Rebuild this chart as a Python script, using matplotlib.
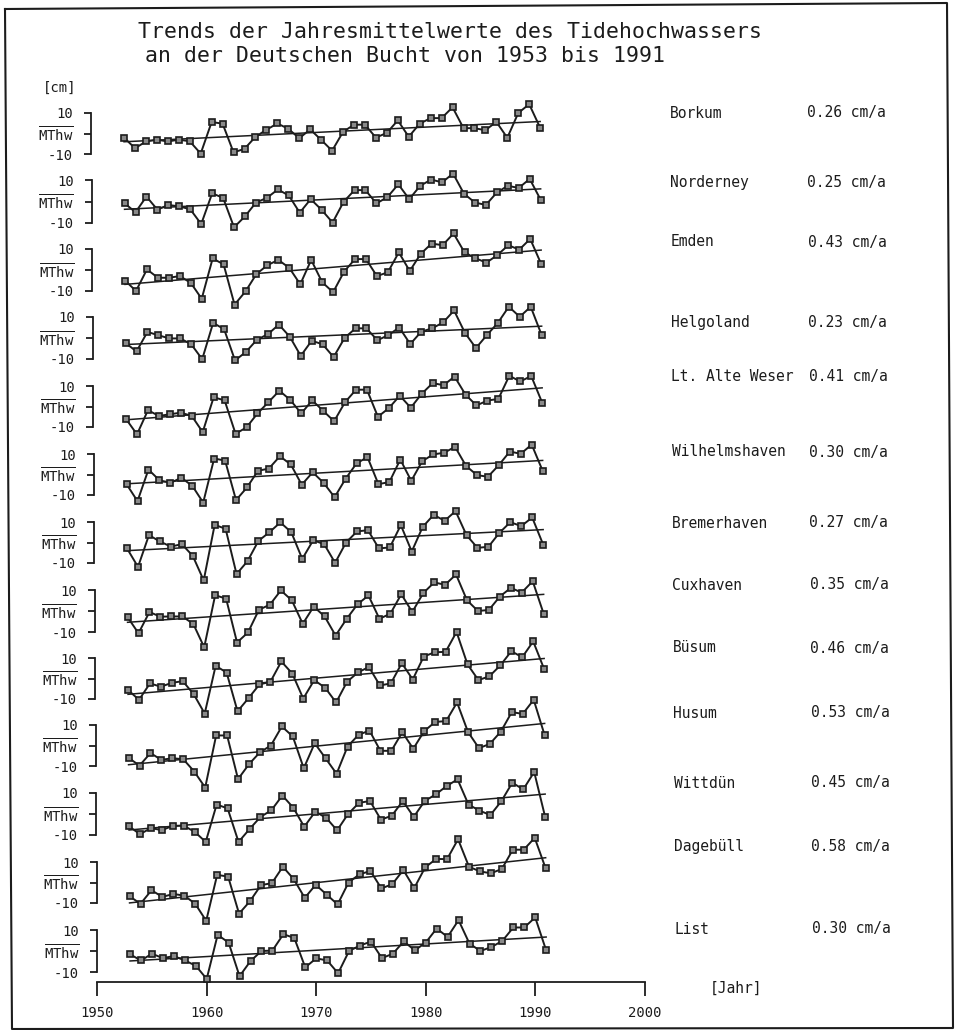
import matplotlib.pyplot as plt
from matplotlib.lines import Line2D
import numpy as np

plt.rcParams['font.family'] = ['DejaVu Sans Mono']
plt.rcParams['mathtext.fontset'] = 'custom'
plt.rcParams['mathtext.rm'] = 'DejaVu Sans Mono'

years = np.arange(1953, 1992)

stations = ['Borkum', 'Norderney', 'Emden', 'Helgoland', 'Lt. Alte Weser',
            'Wilhelmshaven', 'Bremerhaven', 'Cuxhaven', 'Büsum', 'Husum',
            'Wittdün', 'Dagebüll', 'List']
trends = [0.26, 0.25, 0.43, 0.23, 0.41, 0.30, 0.27, 0.35, 0.46, 0.53, 0.45, 0.58, 0.30]

# MThw-Abweichungen in cm, 1953..1991
borkum = [-2.0, -7.2, -3.9, -3.0, -3.9, -3.0, -3.8, -9.8, 5.6, 4.8,
          -9.2, -7.5, -1.6, 1.8, 4.9, 2.3, -2.3, 2.0, -3.1, -8.4,
          0.8, 4.3, 4.3, -2.0, 0.3, 6.4, -1.6, 4.8, 7.5, 7.5,
          12.8, 2.6, 2.6, 1.6, 5.7, -2.1, 10.0, 14.3, 2.8]
norderney = [-0.8, -5.0, 2.3, -3.8, -1.6, -2.3, -3.6, -10.5, 3.8, 1.7,
             -12.0, -6.9, -0.5, 1.7, 5.6, 2.8, -5.2, 1.1, -3.9, -9.8,
             -0.2, 5.3, 5.3, -0.9, 2.0, 8.0, 1.1, 7.3, 10.2, 8.9,
             13.0, 3.6, -0.5, -1.6, 4.2, 7.3, 6.3, 10.5, 0.8]
emden = [-5.0, -10.0, 0.3, -3.7, -3.7, -2.9, -6.1, -13.7, 5.5, 2.7,
         -16.5, -10.2, -1.9, 2.3, 4.8, 1.0, -6.8, 4.8, -5.8, -10.6,
         -0.8, 5.2, 5.2, -2.9, -1.1, 8.4, -0.5, 7.7, 12.6, 11.8,
         17.4, 8.4, 5.6, 3.5, 7.1, 11.8, 9.7, 14.8, 2.9]
helgoland = [-2.4, -6.4, 2.9, 1.3, -0.2, -0.2, -3.0, -10.1, 7.2, 4.2,
             -10.7, -6.6, -0.8, 1.8, 6.4, 0.6, -8.5, -1.3, -3.0, -9.1,
             0.0, 4.6, 4.6, -1.1, 1.4, 5.0, -2.9, 3.0, 4.6, 7.4,
             13.1, 2.4, -4.8, 1.4, 7.2, 14.9, 10.1, 14.9, 1.4]
alte_weser = [-6.1, -13.6, -1.8, -4.6, -3.8, -3.0, -4.6, -12.5, 4.5, 3.0,
              -13.3, -10.2, -3.4, 2.1, 7.7, 3.2, -3.4, 3.0, -2.1, -7.2,
              2.1, 8.2, 8.2, -5.0, -0.8, 5.3, -0.6, 6.2, 11.4, 10.4,
              14.6, 5.8, 0.5, 2.9, 3.7, 15.0, 12.2, 14.9, 1.9]
wilhelmshaven = [-4.7, -13.0, 2.4, -2.8, -4.1, -1.6, -5.5, -13.7, 7.8, 6.8,
                 -12.5, -6.3, 1.8, 2.9, 8.9, 4.9, -5.0, 1.1, -4.1, -11.1,
                 -2.1, 5.4, 8.5, -4.7, -3.7, 7.3, -3.1, 6.5, 9.8, 10.6,
                 13.5, 4.2, -0.3, -1.1, 4.6, 11.2, 10.1, 14.6, 1.8]
bremerhaven = [-2.9, -11.9, 3.6, 0.5, -2.0, -0.8, -6.5, -18.5, 8.6, 6.7,
               -15.4, -9.1, 0.8, 5.0, 9.8, 5.0, -8.0, 1.1, -0.8, -9.9,
               0.0, 5.4, 6.0, -2.9, -2.4, 8.5, -4.4, 7.6, 13.5, 10.6,
               15.3, 3.6, -2.6, -2.1, 4.7, 9.9, 8.0, 12.2, -1.0]
cuxhaven = [-2.9, -10.6, -0.5, -2.7, -2.6, -2.6, -6.1, -17.3, 7.5, 5.9,
            -15.0, -10.2, 0.6, 3.0, 9.8, 5.1, -6.1, 2.1, -2.6, -11.7,
            -3.8, 3.2, 7.4, -3.7, -1.3, 8.0, -0.5, 8.5, 13.6, 12.5,
            17.4, 5.1, 0.0, 0.5, 6.9, 11.0, 8.8, 14.2, -1.3]
buesum = [-5.6, -10.4, -2.4, -4.0, -2.1, -1.3, -7.7, -17.1, 6.2, 2.9,
          -16.0, -9.6, -2.9, -1.6, 8.3, 2.4, -9.8, -0.8, -4.5, -11.7,
          -1.6, 3.0, 5.6, -3.4, -2.4, 7.5, -0.5, 10.7, 12.8, 13.0,
          22.7, 6.9, -0.8, 1.1, 6.4, 13.3, 10.4, 18.1, 4.6]
husum = [-6.0, -9.8, -3.7, -7.0, -6.2, -6.7, -12.7, -20.5, 4.9, 4.9,
         -16.4, -9.1, -3.3, 0.0, 9.3, 4.4, -11.1, 1.1, -6.3, -13.8,
         -0.5, 5.2, 7.3, -2.6, -2.6, 6.5, -1.6, 7.0, 11.5, 11.9,
         21.0, 6.6, -1.3, 0.8, 6.8, 16.3, 15.4, 22.3, 5.0]
wittduen = [-5.9, -9.6, -6.7, -7.7, -5.6, -5.6, -8.5, -13.3, 4.5, 2.7,
            -13.3, -7.2, -1.4, 1.8, 8.8, 3.0, -6.1, 1.1, -1.8, -7.8,
            0.0, 5.3, 6.2, -2.7, -0.8, 6.2, -1.4, 6.2, 9.3, 13.3,
            16.5, 4.5, 1.6, -0.5, 6.1, 14.9, 11.7, 20.0, -1.4]
dagebuell = [-6.7, -10.4, -3.8, -7.0, -5.6, -6.4, -10.4, -18.7, 3.7, 2.9,
             -15.2, -9.1, -1.3, -0.3, 7.7, 1.6, -7.5, -1.1, -5.9, -10.7,
             0.0, 4.0, 5.6, -2.9, -0.8, 6.1, -2.7, 7.4, 11.5, 11.4,
             21.1, 7.7, 5.4, 4.5, 6.6, 16.0, 16.0, 21.8, 6.9]
sylt_list = [-1.6, -4.5, -1.3, -3.4, -2.4, -4.5, -7.0, -13.3, 7.7, 4.0,
             -12.0, -4.8, 0.0, 0.2, 8.0, 6.2, -7.8, -3.5, -4.5, -10.6,
             0.0, 2.6, 4.5, -3.4, -1.3, 4.6, 0.3, 4.0, 10.7, 6.7,
             14.7, 3.5, 0.0, 1.9, 4.8, 11.2, 11.2, 16.0, 0.3]

series = [borkum, norderney, emden, helgoland, alte_weser, wilhelmshaven,
          bremerhaven, cuxhaven, buesum, husum, wittduen, dagebuell, sylt_list]

W, H = 956, 1030
fig = plt.figure(figsize=(W / 100, H / 100), dpi=100)
fig.patch.set_facecolor('white')


def fx(px):
    return px / W


def fy(py):
    return 1 - py / H


ink = '#1c1c1c'

# Pixel-Lage der Teilbilder (Oberkante = +10, Unterkante = -10)
top_px = [113, 180, 249, 317, 386, 454, 522, 590, 658, 725, 793, 862, 930]
bot_px = [154, 223, 291, 359, 427, 495, 563, 632, 699, 766, 835, 903, 972]
width_px = 547.5

for i, vals in enumerate(series):
    left = 91.2 + 0.5 * i
    ax = fig.add_axes([fx(left), fy(bot_px[i]), width_px / W,
                       (bot_px[i] - top_px[i]) / H])
    ax.patch.set_visible(False)
    ax.set_xlim(1950, 2000)
    ax.set_ylim(-10, 10)
    for s in ['top', 'right']:
        ax.spines[s].set_visible(False)
    ax.spines['left'].set_linewidth(1.3)
    ax.spines['left'].set_color(ink)
    ax.set_yticks([-10, 0, 10])
    ax.set_yticklabels(['-10', r'$\overline{\mathrm{MThw}}$', '10'])
    ax.tick_params(axis='y', direction='out', length=5, width=1.3,
                   pad=8, labelsize=10, colors=ink)

    if i < len(series) - 1:
        ax.spines['bottom'].set_visible(False)
        ax.set_xticks([])
    else:
        ax.spines['bottom'].set_position(('outward', 7.5))
        ax.spines['bottom'].set_linewidth(1.3)
        ax.spines['bottom'].set_color(ink)
        ax.set_xticks(range(1950, 2001, 10))
        ax.tick_params(axis='x', direction='out', length=10, width=1.3,
                       pad=7, labelsize=10, colors=ink)

    v = np.array(vals)
    # Trendgerade mit der angegebenen Steigung durch den Schwerpunkt
    t = trends[i] * (years - years.mean()) + v.mean()
    ax.plot([years[0], years[-1]], [t[0], t[-1]], color=ink, lw=1.1,
            clip_on=False)
    ax.plot(years, v, color=ink, lw=1.4, marker='s', ms=5,
            mfc='#8a8a8a', mec=ink, mew=1.2, clip_on=False, zorder=3)

# Stationsnamen und Trends
name_y = [113, 182, 242, 322, 377, 452, 523, 585, 648, 713, 783, 846, 929]
for i, name in enumerate(stations):
    fig.text(fx(670 + 0.35 * i), fy(name_y[i]), name, ha='left',
             va='center', fontsize=10.5, color=ink)
    fig.text(fx(807 + 0.4 * i), fy(name_y[i]), f'{trends[i]:.2f} cm/a',
             ha='left', va='center', fontsize=10.5, color=ink)

fig.text(fx(138), fy(32), 'Trends der Jahresmittelwerte des Tidehochwassers',
         ha='left', va='center', fontsize=15.5, color=ink)
fig.text(fx(145), fy(56), 'an der Deutschen Bucht von 1953 bis 1991',
         ha='left', va='center', fontsize=15.5, color=ink)
fig.text(fx(43), fy(88), '[cm]', ha='left', va='center', fontsize=10,
         color=ink)
fig.text(fx(710), fy(988), '[Jahr]', ha='left', va='center', fontsize=10.5,
         color=ink)

# Rahmen
frame_x = [5, 947, 953, 12, 5]
frame_y = [9, 3, 1028, 1029, 9]
fig.add_artist(Line2D([fx(x) for x in frame_x], [fy(y) for y in frame_y],
                      color=ink, lw=1.5))

fig.savefig('out.png', dpi=100)
